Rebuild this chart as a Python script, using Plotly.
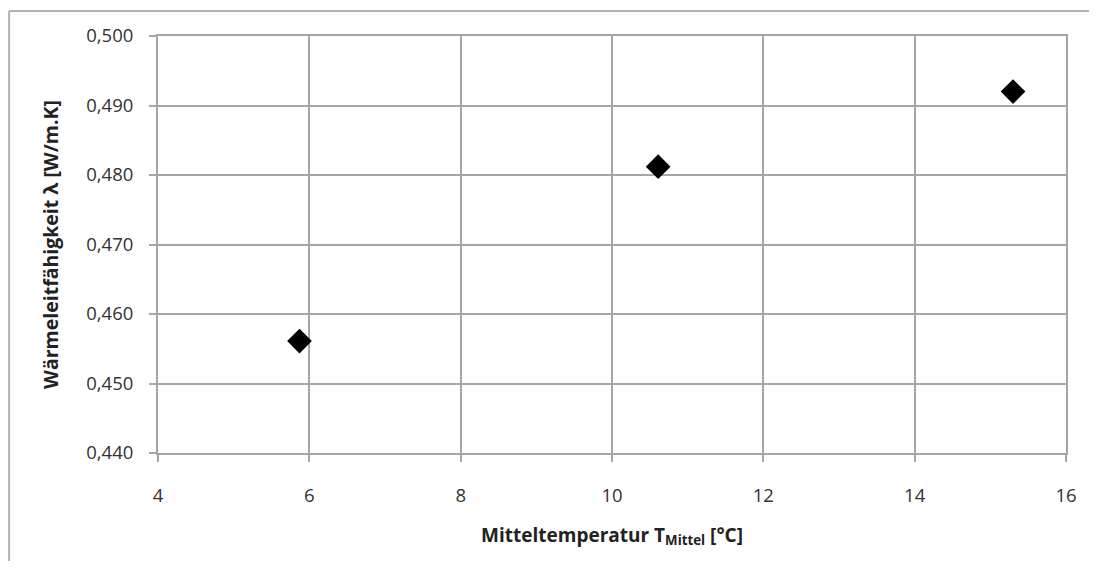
import plotly.graph_objects as go

# Messwerte
t_mittel = [5.87, 10.61, 15.30]
lambda_w = [0.4561, 0.4812, 0.4920]

x_ticks = [4, 6, 8, 10, 12, 14, 16]
y_ticks = [0.440, 0.450, 0.460, 0.470, 0.480, 0.490, 0.500]

FONT = "Open Sans, Liberation Sans, sans-serif"
GRID = "#a6a6a6"

fig = go.Figure()

fig.add_trace(go.Scatter(
    x=t_mittel,
    y=lambda_w,
    mode='markers',
    marker=dict(symbol='diamond', size=19, color='black'),
    showlegend=False
))

# ============================== >>> Layout <<< ==============================
# page has an 8px body margin, so the figure is sized/offset to compensate
fig.update_layout(
    width=1081,
    height=553,
    margin=dict(l=150, r=23, t=28, b=108),
    paper_bgcolor='white',
    plot_bgcolor='white',
    separators=',.',
    font=dict(family=FONT, size=17, color='#333333'),
    # outer chart frame (top and left edges visible)
    shapes=[
        dict(type='line', xref='paper', yref='paper', x0=-0.164, x1=1.03, y0=1.06, y1=1.06,
             line=dict(color='#b3b3b3', width=2)),
        dict(type='line', xref='paper', yref='paper', x0=-0.164, x1=-0.164, y0=1.06, y1=-0.6,
             line=dict(color='#b3b3b3', width=2)),
    ]
)

fig.update_xaxes(
    range=[4, 16],
    tickvals=x_ticks,
    ticks='outside', ticklen=7, tickcolor=GRID, tickwidth=2,
    ticklabelstandoff=18,
    showgrid=True, gridcolor=GRID, gridwidth=1.5,
    showline=True, linecolor=GRID, linewidth=2, mirror=True,
    zeroline=False,
    tickfont=dict(size=18.5),
    title=dict(text='<b>Mitteltemperatur T<sub>Mittel</sub> [°C]</b>', font=dict(size=19, color='#222222'),
               standoff=22),
)

fig.update_yaxes(
    range=[0.44, 0.50],
    tickvals=y_ticks,
    tickformat='.3f',
    ticks='outside', ticklen=7, tickcolor=GRID, tickwidth=2,
    ticklabelstandoff=12,
    showgrid=True, gridcolor=GRID, gridwidth=1.5,
    showline=True, linecolor=GRID, linewidth=2, mirror=True,
    zeroline=False,
    tickfont=dict(size=18.5),
    title=dict(text='<b>Wärmeleitfähigkeit λ [W/m.K]</b>', font=dict(size=19.5, color='#222222'),
               standoff=22),
)

fig.write_html("out.html")
